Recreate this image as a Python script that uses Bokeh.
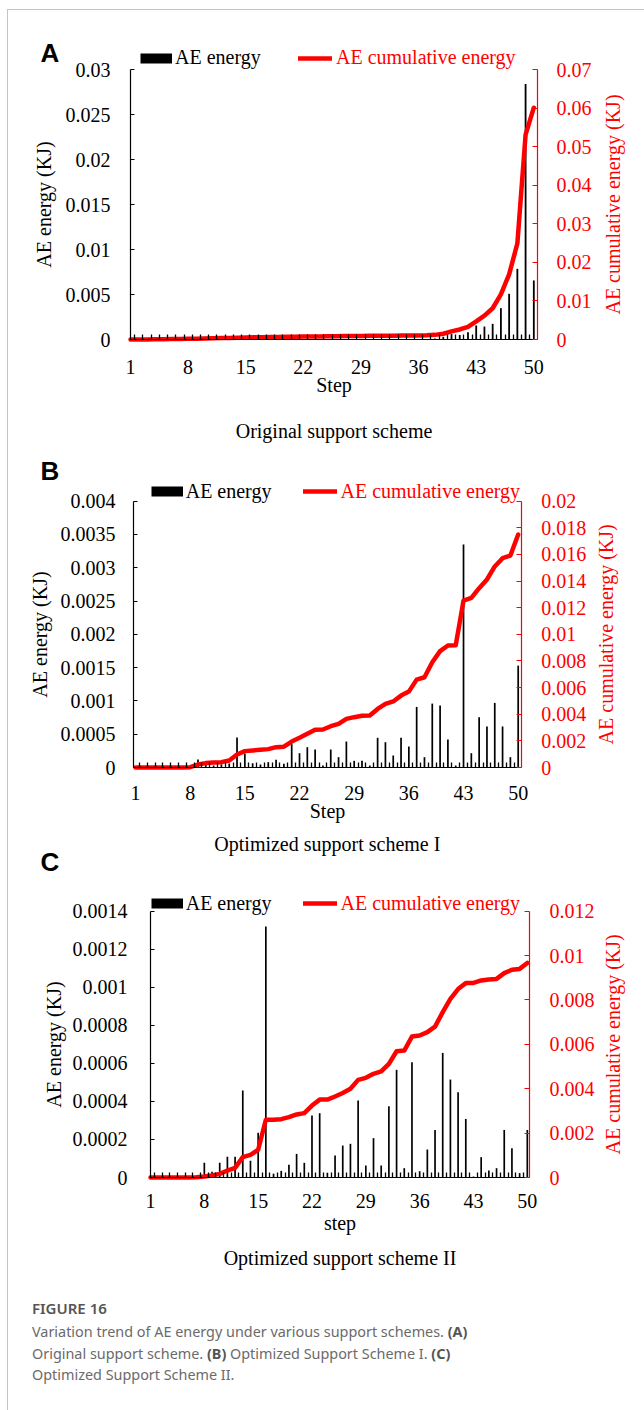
import math
from bokeh.plotting import figure
from bokeh.models import (ColumnDataSource, Range1d, LinearAxis, FixedTicker,
                          CustomJSTickFormatter, Legend, LegendItem, Label, Div)
from bokeh.layouts import column
from bokeh.embed import file_html
from bokeh.resources import INLINE

# ---------------- data ----------------
steps = list(range(1, 51))
step_labels = [1, 8, 15, 22, 29, 36, 43, 50]

energy_a = [0.00001, 0.00001, 0.00002, 0.00002, 0.00003, 0.00003, 0.00003, 0.00004, 0.00004, 0.00004,
            0.00005, 0.00005, 0.00005, 0.00005, 0.00006, 0.00004, 0.00004, 0.00003, 0.00003, 0.00003,
            0.00003, 0.00003, 0.00003, 0.00003, 0.00003, 0.00002, 0.00002, 0.00002, 0.00002, 0.00002,
            0.00002, 0.00002, 0.00002, 0.00002, 0.00002, 0.00002, 0.00004, 0.00012, 0.0003, 0.0006,
            0.0005, 0.0008, 0.00156, 0.00144, 0.00174, 0.00348, 0.00507, 0.00785, 0.0284, 0.00656]
cum_a = [0, 0.00001, 0.00003, 0.00005, 0.00008, 0.00011, 0.00014, 0.00018, 0.00022, 0.00026,
         0.00031, 0.00036, 0.00041, 0.00046, 0.00052, 0.00056, 0.0006, 0.00063, 0.00066, 0.00069,
         0.00072, 0.00075, 0.00078, 0.00081, 0.00084, 0.00086, 0.00088, 0.0009, 0.00092, 0.00094,
         0.00096, 0.00098, 0.001, 0.00102, 0.00104, 0.00106, 0.0011, 0.0012, 0.0015, 0.0021,
         0.0026, 0.0033, 0.0047, 0.0062, 0.0081, 0.0117, 0.0169, 0.0249, 0.0531, 0.0601]

energy_b = [0, 0, 0, 0, 0, 0, 0, 0, 0.00012, 0.00004,
            0.00003, 0.00005, 0.00006, 0.00045, 0.00021, 0.000065, 0.000045, 0.00008, 0.000115, 0.000055,
            0.00035, 0.000215, 0.000305, 0.000272, 0.00003, 0.00027, 0.000155, 0.00039, 0.0001, 0.0001,
            0.00003, 0.000446, 0.00038, 0.00018, 0.000446, 0.000315, 0.00091, 0.000155, 0.00096, 0.00093,
            0.00042, 0.00003, 0.00335, 0.000215, 0.000756, 0.000616, 0.00097, 0.000616, 0.000155, 0.00153]
cum_b = [0, 0, 0, 0, 0, 0, 0, 0.00002, 0.00022, 0.00033,
         0.00038, 0.0004, 0.00053, 0.00098, 0.00123, 0.00128, 0.00133, 0.00138, 0.00153, 0.00156,
         0.00195, 0.00223, 0.00253, 0.00283, 0.00285, 0.0031, 0.00328, 0.00365, 0.00378, 0.00388,
         0.0039, 0.0044, 0.00478, 0.00496, 0.0054, 0.0057, 0.0066, 0.00678, 0.0079, 0.00874,
         0.00916, 0.00918, 0.01254, 0.01274, 0.01347, 0.01412, 0.0151, 0.01572, 0.01592, 0.0175]

energy_c = [0, 0, 0, 0, 0, 0, 0.00001, 0.000077, 0.00003, 0.000077,
            0.000109, 0.000109, 0.000457, 0.000088, 0.000235, 0.00132, 0.00002, 0.000035, 0.000067, 0.000124,
            0.000077, 0.000326, 0.000338, 0.000025, 0.000116, 0.000168, 0.000177, 0.000405, 0.000063, 0.000207,
            0.000063, 0.000375, 0.000566, 0.000049, 0.000606, 0.000033, 0.000147, 0.00025, 0.000655, 0.000515,
            0.000448, 0.000308, 0.000005, 0.000107, 0.000037, 0.000049, 0.00025, 0.000154, 0.000023, 0.00025]
cum_c = [0, 0, 0, 0, 0, 0, 0.00001, 0.000045, 0.00009, 0.000165,
         0.000315, 0.000435, 0.000916, 0.00102, 0.00125, 0.0026, 0.0026, 0.00263, 0.00272, 0.00284,
         0.0029, 0.00324, 0.00351, 0.00351, 0.00365, 0.00381, 0.004, 0.0044, 0.00449, 0.00467,
         0.00478, 0.00512, 0.00569, 0.00572, 0.00635, 0.0064, 0.00655, 0.0068, 0.00745, 0.00805,
         0.00849, 0.00876, 0.00877, 0.00888, 0.00892, 0.00895, 0.00921, 0.00936, 0.0094, 0.00967]

left_ticks_a = [0, 0.005, 0.01, 0.015, 0.02, 0.025, 0.03]
right_ticks_a = [0, 0.01, 0.02, 0.03, 0.04, 0.05, 0.06, 0.07]
left_ticks_b = [0, 0.0005, 0.001, 0.0015, 0.002, 0.0025, 0.003, 0.0035, 0.004]
right_ticks_b = [0, 0.002, 0.004, 0.006, 0.008, 0.01, 0.012, 0.014, 0.016, 0.018, 0.02]
left_ticks_c = [0, 0.0002, 0.0004, 0.0006, 0.0008, 0.001, 0.0012, 0.0014]
right_ticks_c = [0, 0.002, 0.004, 0.006, 0.008, 0.01, 0.012]

subtitle_a = "Original support scheme"
subtitle_b = "Optimized support scheme I"
subtitle_c = "Optimized support scheme II"

# ---------------- style / layout ----------------
SERIF = "Liberation Serif"
RED = "#FF0000"
FS = "20px"
W = 636          # canvas width (page x 8..644)
X0 = 8           # page x of canvas left


def fmt():
    return CustomJSTickFormatter(code="return String(parseFloat(tick.toPrecision(10)));")


def subtitle_label(text, g_owner, g_canvas):
    """Centered subtitle under a panel, drawn on the canvas described by g_canvas."""
    return Label(x=(g_owner["plot_l"] + g_owner["plot_r"]) / 2 - X0, y=g_canvas["bottom"] - g_owner["sub_c"],
                 x_units="screen", y_units="screen", text=text, text_font=SERIF, text_font_size=FS,
                 text_color="black", text_align="center", text_baseline="middle")


def panel(letter, energy, cum, lticks, rticks, xlabel, g):
    H = g["bottom"] - g["top"]
    lmax, rmax = lticks[-1], rticks[-1]
    plot_h = g["y0"] - g["ytop"]
    ls, rs = lmax / plot_h, rmax / plot_h

    def xdat(px):
        return 1 + (px - g["i1"]) / g["step"]

    def sy(py):          # page y -> screen units from canvas bottom
        return g["bottom"] - py

    p = figure(width=W, height=H, title=None,
               x_range=Range1d(xdat(X0), xdat(X0 + W)),
               y_range=Range1d(-(g["bottom"] - g["y0"]) * ls, (g["y0"] - g["top"]) * ls),
               output_backend="svg", toolbar_location=None, min_border=0, margin=0)
    p.extra_y_ranges = {"cum": Range1d(-(g["bottom"] - g["y0"]) * rs, (g["y0"] - g["top"]) * rs)}
    p.outline_line_color = None
    p.xgrid.visible = False
    p.ygrid.visible = False
    p.background_fill_color = "white"
    p.border_fill_color = "white"

    xl, xr = xdat(g["plot_l"]), xdat(g["plot_r"])

    src = ColumnDataSource(dict(step=steps, energy=energy, cum=cum))
    p.vbar(x="step", top="energy", width=0.22, source=src, fill_color="black", line_color=None)
    line = p.line(x="step", y="cum", source=src, y_range_name="cum",
                  line_color=RED, line_width=4.5, line_join="round", line_cap="round")
    # legend proxy for the bars (draws nothing on the chart itself)
    swatch = p.line(x=[math.nan], y=[math.nan], line_color="black", line_width=10, line_cap="butt")

    # x axis
    xa = p.xaxis[0]
    xa.fixed_location = 0
    xa.bounds = (xl, xr)
    xa.ticker = FixedTicker(ticks=step_labels, minor_ticks=[s + 0.5 for s in steps[:-1]])
    xa.axis_line_color = "black"
    xa.axis_line_width = 1.2
    xa.major_tick_line_color = None
    xa.minor_tick_in = 5
    xa.minor_tick_out = 0
    xa.minor_tick_line_color = "black"
    xa.minor_tick_line_width = 1.3
    xa.major_label_text_font = SERIF
    xa.major_label_text_font_size = FS
    xa.major_label_text_color = "black"
    xa.major_label_standoff = g["xls"]
    xa.axis_label = xlabel
    xa.axis_label_text_font = SERIF
    xa.axis_label_text_font_size = FS
    xa.axis_label_text_font_style = "normal"
    xa.axis_label_text_color = "black"
    xa.axis_label_standoff = g["xts"]

    # left axis
    ya = p.yaxis[0]
    ya.fixed_location = xl
    ya.bounds = (0, lmax)
    ya.ticker = FixedTicker(ticks=lticks)
    ya.formatter = fmt()
    ya.axis_line_color = "black"
    ya.axis_line_width = 1.2
    ya.major_tick_in = 4
    ya.major_tick_out = 0
    ya.major_tick_line_width = 1.2
    ya.minor_tick_line_color = None
    ya.major_label_text_font = SERIF
    ya.major_label_text_font_size = FS
    ya.major_label_text_color = "black"
    ya.major_label_standoff = g["lls"]
    ya.axis_label = "AE energy (KJ)"
    ya.axis_label_text_font = SERIF
    ya.axis_label_text_font_size = FS
    ya.axis_label_text_font_style = "normal"
    ya.axis_label_text_color = "black"
    ya.axis_label_standoff = g["lts"]

    # right axis (its title is drawn as a rotated label, reading bottom to top)
    ra = LinearAxis(y_range_name="cum", ticker=FixedTicker(ticks=rticks), formatter=fmt(),
                    fixed_location=xr, bounds=(0, rmax))
    ra.axis_line_color = RED
    ra.axis_line_width = 1.2
    ra.major_tick_in = 5
    ra.major_tick_out = 0
    ra.major_tick_line_color = RED
    ra.major_tick_line_width = 1.2
    ra.minor_tick_line_color = None
    ra.major_label_text_font = SERIF
    ra.major_label_text_font_size = FS
    ra.major_label_text_color = RED
    ra.major_label_standoff = g["rls"]
    p.add_layout(ra, "right")
    p.add_layout(Label(x=g["rt_x"] - X0, y=sy((g["y0"] + g["ytop"]) / 2), x_units="screen",
                       y_units="screen", text="AE cumulative energy (KJ)", angle=90, angle_units="deg",
                       text_font=SERIF, text_font_size=FS, text_color=RED,
                       text_align="center", text_baseline="middle"))

    # legends
    ly = g["bottom"] - (g["lgc"] + 12)
    common = dict(orientation="horizontal", padding=0, margin=0, spacing=0,
                  border_line_color=None, background_fill_alpha=0,
                  label_text_font=SERIF, label_text_font_size=FS,
                  glyph_height=24, label_height=24)
    leg1 = Legend(items=[LegendItem(label="AE energy", renderers=[swatch])],
                  location=(g["lg1"] - X0, ly), glyph_width=32, label_standoff=3,
                  label_text_color="black", **common)
    leg2 = Legend(items=[LegendItem(label="AE cumulative energy", renderers=[line])],
                  location=(g["lg2"] - X0, ly), glyph_width=34, label_standoff=4,
                  label_text_color=RED, **common)
    p.add_layout(leg1)
    p.add_layout(leg2)

    p.add_layout(Label(x=40 - X0, y=sy(g["letter_c"]), x_units="screen", y_units="screen",
                       text=letter, text_font="Liberation Sans", text_font_size="26px",
                       text_font_style="bold", text_color="black", text_baseline="middle"))
    return p


# geometry in page pixels
ga = dict(top=10, bottom=448, plot_l=130, plot_r=537, i1=130, step=8.231, y0=339, ytop=69,
          xls=14, xts=-3, lls=20, lts=8, rls=19, rt_x=612,
          lg1=140, lg2=298, lgc=57.7, letter_c=52, sub_c=430)
gb = dict(top=448, bottom=828, plot_l=133, plot_r=520.7, i1=135, step=7.81, y0=767, ytop=500.7,
          xls=12, xts=-3, lls=18, lts=7, rls=20, rt_x=605,
          lg1=150.7, lg2=302.5, lgc=491, letter_c=470.5, sub_c=843)
gc = dict(top=828, bottom=1285, plot_l=150, plot_r=529, i1=150, step=7.69, y0=1177, ytop=910.7,
          xls=10, xts=1, lls=23, lts=5, rls=20, rt_x=612,
          lg1=150.7, lg2=302.5, lgc=903, letter_c=861.5, sub_c=1257)

pa = panel("A", energy_a, cum_a, left_ticks_a, right_ticks_a, "Step", ga)
pb = panel("B", energy_b, cum_b, left_ticks_b, right_ticks_b, "Step", gb)
pc = panel("C", energy_c, cum_c, left_ticks_c, right_ticks_c, "step", gc)

pa.add_layout(subtitle_label(subtitle_a, ga, ga))
pc.add_layout(subtitle_label(subtitle_b, gb, gc))   # B's subtitle sits just above panel C's top
pc.add_layout(subtitle_label(subtitle_c, gc, gc))

caption = Div(
    text=('<div style="font-family:\'Noto Sans\',sans-serif;color:#6a6a6a;padding:13px 0 0 24px;width:600px;">'
          '<div style="font-size:15px;font-weight:600;color:#555;line-height:20px;">FIGURE 16</div>'
          '<div style="font-size:14.4px;line-height:21.5px;margin-top:3px;">'
          'Variation trend of AE energy under various support schemes. <b style="color:#555">(A)</b><br>'
          'Original support scheme. <b style="color:#555">(B)</b> Optimized Support Scheme I. '
          '<b style="color:#555">(C)</b><br>'
          'Optimized Support Scheme II.</div></div>'),
    width=W, height=125, margin=0)

layout = column(pa, pb, pc, caption, margin=0,
                styles={"margin-left": "7px", "margin-top": "9px",
                        "border-left": "1px solid #c4c4c4", "border-top": "1px solid #c4c4c4"})

open("out.html", "w").write(file_html(layout, INLINE))
